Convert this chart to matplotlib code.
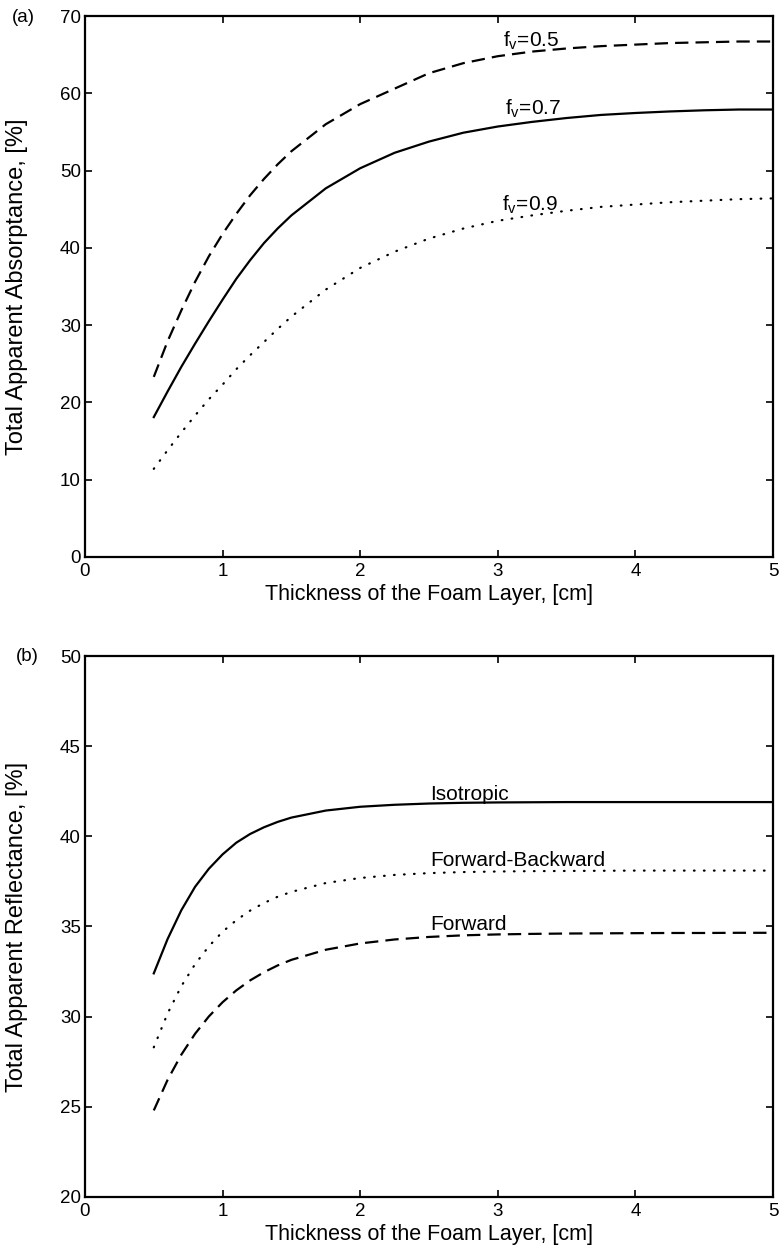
import matplotlib
matplotlib.use('Agg')
import matplotlib.pyplot as plt

plt.rcParams['font.family'] = ['Liberation Sans', 'DejaVu Sans']
plt.rcParams['mathtext.fontset'] = 'custom'
plt.rcParams['mathtext.rm'] = 'Liberation Sans'
plt.rcParams['mathtext.it'] = 'Liberation Sans'
plt.rcParams['font.size'] = 15

# foam thickness, cm
thick = [0.5, 0.6, 0.7, 0.8, 0.9, 1.0, 1.1, 1.2, 1.3, 1.4, 1.5,
         1.75, 2.0, 2.25, 2.5, 2.75, 3.0, 3.25, 3.5, 3.75, 4.0,
         4.25, 4.5, 4.75, 5.0]

# (a) total apparent absorptance, %
absorp_fv05 = [23.3, 27.9, 31.9, 35.6, 38.9, 41.8, 44.4, 46.8, 48.9, 50.8, 52.5,
               56.0, 58.6, 60.6, 62.6, 63.9, 64.8, 65.4, 65.8, 66.1, 66.3,
               66.5, 66.6, 66.7, 66.7]
absorp_fv07 = [18.1, 21.4, 24.6, 27.6, 30.5, 33.3, 36.0, 38.4, 40.6, 42.5, 44.2,
               47.7, 50.3, 52.3, 53.75, 54.9, 55.7, 56.3, 56.8, 57.2, 57.45,
               57.65, 57.8, 57.9, 57.9]
absorp_fv09 = [11.4, 13.8, 16.1, 18.3, 20.4, 22.3, 24.3, 26.1, 27.8, 29.5, 31.1,
               34.6, 37.4, 39.5, 41.2, 42.5, 43.5, 44.2, 44.8, 45.3, 45.6,
               45.9, 46.1, 46.3, 46.4]

# (b) total apparent reflectance, %
refl_iso = [32.4, 34.3, 35.9, 37.2, 38.2, 39.0, 39.65, 40.13, 40.5, 40.8, 41.04,
            41.43, 41.64, 41.75, 41.82, 41.86, 41.88, 41.89, 41.9, 41.9, 41.9,
            41.9, 41.9, 41.9, 41.9]
refl_fb = [28.3, 30.17, 31.69, 32.91, 33.9, 34.71, 35.35, 35.88, 36.3, 36.65, 36.92,
           37.41, 37.69, 37.86, 37.96, 38.02, 38.05, 38.07, 38.08, 38.09, 38.1,
           38.1, 38.1, 38.1, 38.1]
refl_fwd = [24.8, 26.49, 27.89, 29.05, 30.01, 30.8, 31.46, 32.01, 32.46, 32.84, 33.15,
            33.71, 34.06, 34.28, 34.42, 34.51, 34.56, 34.59, 34.61, 34.62, 34.63,
            34.64, 34.64, 34.65, 34.65]

LW = 1.6
dashed = dict(color='black', lw=LW, linestyle=(0, (6, 3.2)))
solid = dict(color='black', lw=LW, linestyle='-')
dotted = dict(color='black', lw=LW, linestyle=(0, (0.3, 4.2)), dash_capstyle='round')

fig = plt.figure(figsize=(7.79, 12.51), dpi=100)
ax1 = fig.add_axes([0.1091, 0.5548, 0.8832, 0.4324])
ax2 = fig.add_axes([0.1091, 0.0432, 0.8832, 0.4324])


def style_axes(ax):
    for s in ax.spines.values():
        s.set_linewidth(1.6)
    ax.tick_params(direction='in', length=5, width=1.2, top=True, right=True,
                   labelsize=13.5)
    ax.tick_params(axis='x', pad=4)
    ax.tick_params(axis='y', pad=3)
    ax.set_xlim(0, 5)
    ax.set_xticks(range(0, 6))
    ax.set_xlabel('Thickness of the Foam Layer, [cm]', fontsize=15.5)
    ax.xaxis.set_label_coords(0.5, -0.05)
    ax.yaxis.set_label_coords(-0.083, 0.5)


ax1.plot(thick, absorp_fv05, **dashed)
ax1.plot(thick, absorp_fv07, **solid)
ax1.plot(thick, absorp_fv09, **dotted)
ax1.set_ylim(0, 70)
ax1.set_yticks(range(0, 71, 10))
ax1.set_ylabel('Total Apparent Absorptance, [%]', fontsize=17)
style_axes(ax1)
ax1.text(3.04, 66.0, r'$\mathregular{f_v}$=0.5', va='baseline')
ax1.text(3.05, 57.2, r'$\mathregular{f_v}$=0.7', va='baseline')
ax1.text(3.03, 44.8, r'$\mathregular{f_v}$=0.9', va='baseline')
fig.text(23 / 779, 1 - 18 / 1251, '(a)', ha='center', va='center', fontsize=13.5)

ax2.plot(thick, refl_iso, **solid)
ax2.plot(thick, refl_fb, **dotted)
ax2.plot(thick, refl_fwd, **dashed)
ax2.set_ylim(20, 50)
ax2.set_yticks(range(20, 51, 5))
ax2.set_ylabel('Total Apparent Reflectance, [%]', fontsize=17)
style_axes(ax2)
ax2.text(2.51, 42.02, 'Isotropic', va='baseline')
ax2.text(2.51, 38.34, 'Forward-Backward', va='baseline')
ax2.text(2.51, 34.8, 'Forward', va='baseline')
fig.text(27 / 779, 1 - 657 / 1251, '(b)', ha='center', va='center', fontsize=13.5)

fig.savefig('out.png', dpi=100)
